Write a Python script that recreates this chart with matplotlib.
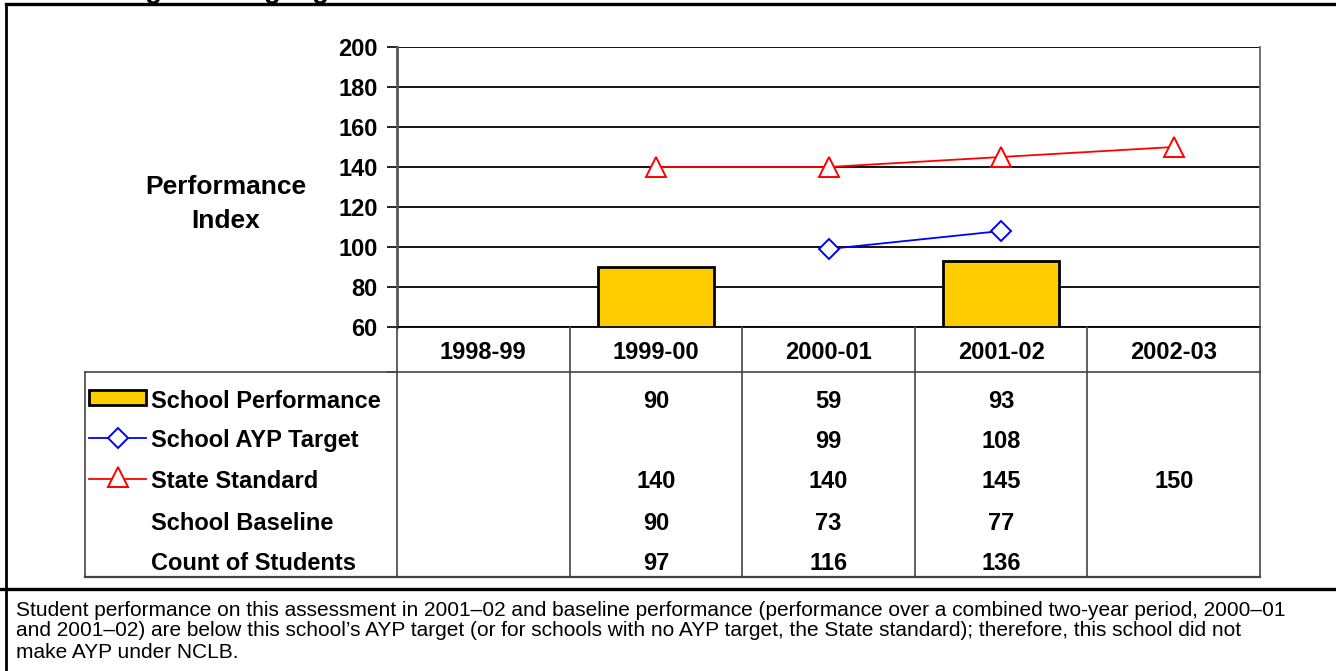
import matplotlib
matplotlib.use("Agg")
import matplotlib.pyplot as plt
from matplotlib.lines import Line2D
from matplotlib.patches import Rectangle
import numpy as np

plt.rcParams['font.family'] = ['Liberation Sans', 'DejaVu Sans']

years = ["1998-99", "1999-00", "2000-01", "2001-02", "2002-03"]
school_perf = [None, 90, 59, 93, None]
ayp_target = [None, None, 99, 108, None]
state_std = [None, 140, 140, 145, 150]
school_base = [None, 90, 73, 77, None]
count_students = [None, 97, 116, 136, None]

row_names = ["School Performance", "School AYP Target", "State Standard",
             "School Baseline", "Count of Students"]
row_values = [school_perf, ayp_target, state_std, school_base, count_students]

y_ticks = [60, 80, 100, 120, 140, 160, 180, 200]
title_text = "Grade 8 English Language Arts"
note_lines = [
    "Student performance on this assessment in 2001\u201302 and baseline performance "
    "(performance over a combined two-year period, 2000\u201301",
    "and 2001\u201302) are below this school\u2019s AYP target (or for schools with no AYP "
    "target, the State standard); therefore, this school did not",
    "make AYP under NCLB.",
]

W, H = 1336, 671
fig = plt.figure(figsize=(W / 100, H / 100), dpi=100)


def px_rect(x0, y0, x1, y1):
    # pixel box (top-left origin) -> figure fraction
    return [x0 / W, 1 - y1 / H, (x1 - x0) / W, (y1 - y0) / H]


# outer frame and separator
frame = fig.add_axes([0, 0, 1, 1])
frame.set_xlim(0, W)
frame.set_ylim(H, 0)
frame.axis("off")
frame.plot([6, W], [4, 4], color="black", lw=2.4)
frame.plot([6, 6], [4, H], color="black", lw=2.0)
frame.plot([0, W], [589, 589], color="black", lw=2.4)
for ly, line in zip([610, 631, 652], note_lines):
    frame.text(16, ly, line, fontsize=15, va="center", ha="left")
frame.text(2, -2.5, title_text, fontsize=19.5, fontweight="bold", ha="left",
           va="baseline", clip_on=False)

# chart
x = np.arange(len(years))
ax = fig.add_axes(px_rect(397, 47, 1260, 327))
ax.set_xlim(-0.5, len(years) - 0.5)
ax.set_ylim(60, 200)
ax.set_yticks(y_ticks)
ax.set_yticklabels([str(v) for v in y_ticks], fontsize=17, fontweight="bold")
ax.tick_params(axis="y", length=7, width=1.2, pad=7)
ax.set_xticks([])
ax.yaxis.grid(True, color="black", lw=1.3)
ax.set_axisbelow(True)
ax.spines["top"].set_visible(False)
ax.spines["left"].set_color("#555555")
ax.spines["left"].set_linewidth(2)
ax.spines["right"].set_color("#666666")
ax.spines["right"].set_linewidth(1.3)
ax.spines["bottom"].set_linewidth(1.3)

bar_h = [np.nan if v is None else v - 60 for v in school_perf]
ax.bar(x, bar_h, bottom=60, width=0.67, color="#FFCC00", edgecolor="black",
       linewidth=2, zorder=3, clip_on=True)

ayp = np.array([np.nan if v is None else v for v in ayp_target], dtype=float)
ax.plot(x, ayp, color="#0000FF", lw=1.3, marker="D", markersize=10,
        markerfacecolor="white", markeredgecolor="#0000FF", markeredgewidth=1.4, zorder=4)
st = np.array([np.nan if v is None else v for v in state_std], dtype=float)
ax.plot(x, st, color="#FF0000", lw=1.3, marker="^", markersize=15,
        markerfacecolor="white", markeredgecolor="#FF0000", markeredgewidth=1.4, zorder=4)

fig.text(226 / W, 1 - 204 / H, "Performance\nIndex", fontsize=19, fontweight="bold",
         ha="center", va="center", linespacing=1.55)

# data table under the chart
col_w = (1260 - 397) / len(years)
tax = fig.add_axes(px_rect(85, 327, 1260, 578))
left = -0.5 - (397 - 85) / col_w
tax.set_xlim(left, len(years) - 0.5)
tax.set_ylim(251, 0)
tax.axis("off")

grey = "#444444"
# header row and table borders
tax.plot([-0.5 - 9 / col_w, -0.5], [45, 45], color=grey, lw=1.2, clip_on=False)
tax.plot([left, len(years) - 0.5], [45, 45], color=grey, lw=1.2, clip_on=False)
for i, yr in enumerate(years):
    tax.text(i, 25, yr, fontsize=17, fontweight="bold", ha="center", va="center")
for b in np.arange(len(years) + 1) - 0.5:
    tax.plot([b, b], [0, 250], color=grey, lw=1.2, clip_on=False)
tax.plot([left, left], [45, 250], color=grey, lw=1.2, clip_on=False)
tax.plot([left, len(years) - 0.5], [250, 250], color=grey, lw=1.6, clip_on=False)

row_y = [74, 114, 155, 196, 237]
lbl_x = left + (151 - 85) / col_w
for name, vals, ry in zip(row_names, row_values, row_y):
    tax.text(lbl_x, ry, name, fontsize=17, fontweight="bold", ha="left", va="center")
    for i, v in enumerate(vals):
        if v is not None:
            tax.text(i, ry, str(v), fontsize=17, fontweight="bold", ha="center", va="center")

# legend keys
k0 = left + 4 / col_w
k1 = left + 61 / col_w
tax.add_patch(Rectangle((k0, row_y[0] - 11), k1 - k0, 15, facecolor="#FFCC00",
                        edgecolor="black", lw=2, clip_on=False))
tax.add_line(Line2D([k0, k1], [row_y[1] - 3, row_y[1] - 3], color="#0000FF", lw=1.3,
                    clip_on=False))
tax.plot([(k0 + k1) / 2], [row_y[1] - 3], marker="D", markersize=10, color="#0000FF",
         markerfacecolor="white", markeredgewidth=1.4, clip_on=False)
tax.add_line(Line2D([k0, k1], [row_y[2] - 3, row_y[2] - 3], color="#FF0000", lw=1.3,
                    clip_on=False))
tax.plot([(k0 + k1) / 2], [row_y[2] - 5], marker="^", markersize=14, color="#FF0000",
         markerfacecolor="white", markeredgewidth=1.4, clip_on=False)

fig.savefig("out.png", dpi=100)
